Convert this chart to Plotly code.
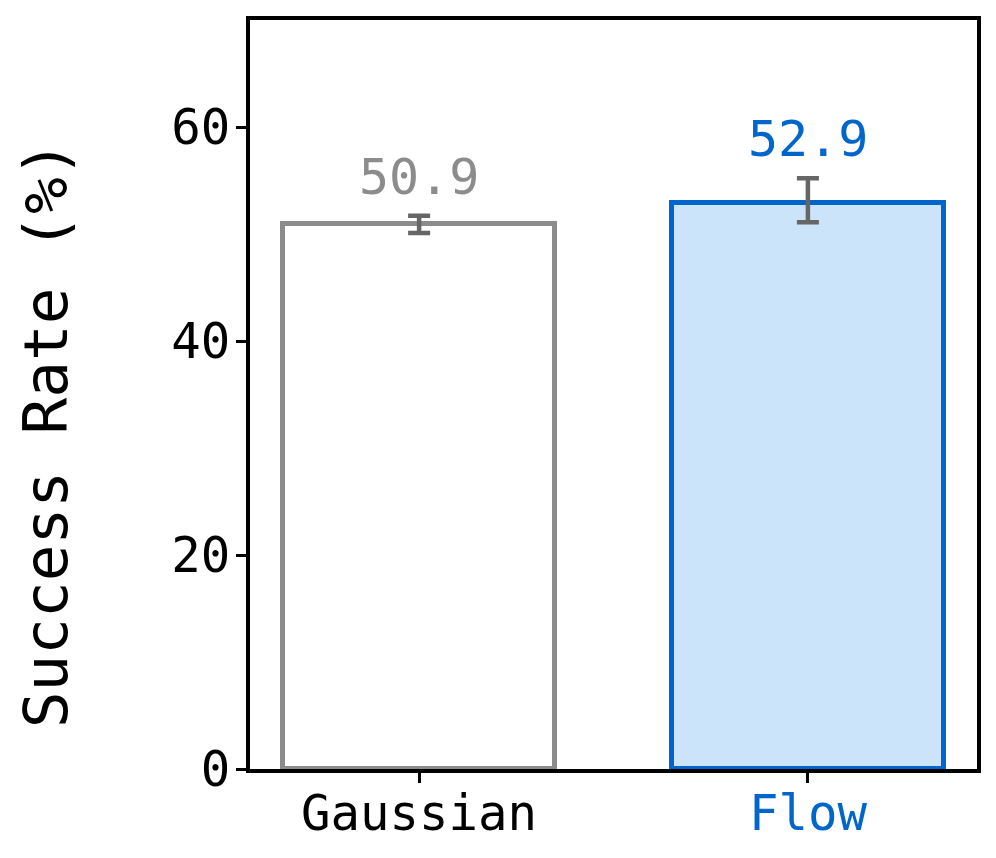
import plotly.graph_objects as go

categories = ["Gaussian", "Flow"]
values = [50.9, 52.9]
errors_plus = [0.8, 2.3]
errors_minus = [0.8, 1.8]
value_labels = ["50.9", "52.9"]
tick_labels = ["Gaussian", "Flow"]
y_ticks = [0, 20, 40, 60]

edge_colors = ["#8c8c8c", "#0066cc"]
fill_colors = ["#ffffff", "#cce4fa"]
label_colors = ["#8c8c8c", "#0066cc"]

FONT = "DejaVu Sans Mono"

fig = go.Figure()
fig.add_trace(go.Bar(
    x=list(range(len(categories))),
    y=values,
    width=0.7,
    marker=dict(color=fill_colors, line=dict(color=edge_colors, width=5)),
    error_y=dict(type="data", symmetric=False, array=errors_plus, arrayminus=errors_minus,
                 visible=True, color="#666666", thickness=4.5, width=11),
    showlegend=False,
))

for i, (v, e, t) in enumerate(zip(values, errors_plus, value_labels)):
    fig.add_annotation(
        x=i, y=v + e, text=t, showarrow=False, xref="x", yref="y",
        yanchor="bottom", yshift=8,
        font=dict(family=FONT, size=50, color=label_colors[i]),
    )

fig.add_annotation(
    text="Success Rate (%)", textangle=-90, showarrow=False,
    xref="paper", yref="paper", x=-0.282, y=0.447,
    xanchor="center", yanchor="middle",
    font=dict(family=FONT, size=61, color="#000000"),
)

ticktext = [f'<span style="color:{label_colors[i]}">{tick_labels[i]}</span>' if i == 1 else tick_labels[i]
            for i in range(len(tick_labels))]

fig.update_xaxes(
    range=[-0.435, 1.435],
    tickmode="array", tickvals=list(range(len(categories))), ticktext=ticktext,
    showline=True, linecolor="#000000", linewidth=4, mirror=True,
    ticks="outside", ticklen=10, tickwidth=2.5, tickcolor="#000000",
    tickfont=dict(family=FONT, size=49, color="#000000"),
    ticklabelstandoff=-12,
    showgrid=False, zeroline=False,
)
fig.update_yaxes(
    range=[0, 70],
    tickmode="array", tickvals=y_ticks, ticktext=[str(t) for t in y_ticks],
    showline=True, linecolor="#000000", linewidth=4, mirror=True,
    ticks="outside", ticklen=10, tickwidth=2.5, tickcolor="#000000",
    tickfont=dict(family=FONT, size=49, color="#000000"),
    ticklabelstandoff=-4,
    showgrid=False, zeroline=False,
)

fig.update_layout(
    width=996, height=858,
    margin=dict(l=242, r=27, t=12, b=97, autoexpand=False),
    plot_bgcolor="#ffffff", paper_bgcolor="#ffffff",
    font=dict(family=FONT),
    bargap=0,
)

fig.write_html("out.html")
